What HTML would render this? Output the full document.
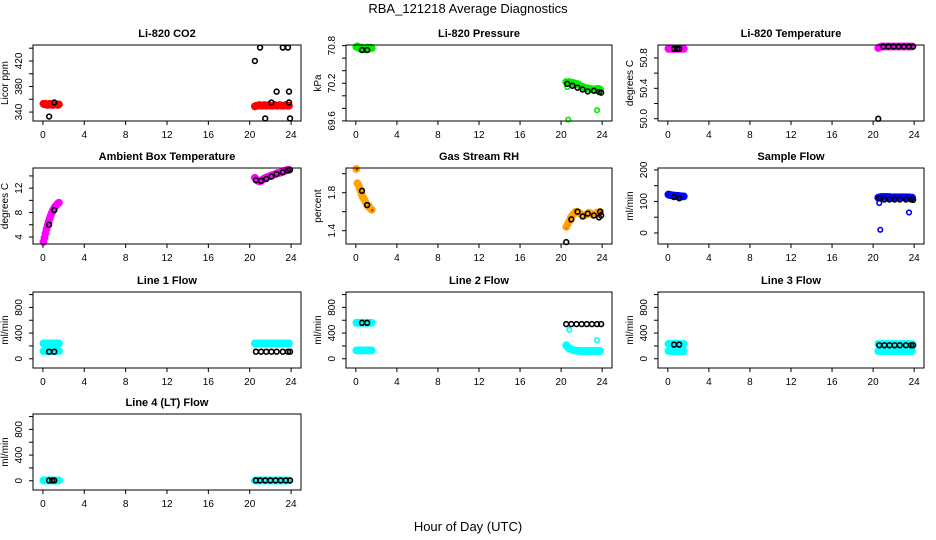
<!DOCTYPE html>
<html><head><meta charset="utf-8"><style>
body{margin:0;background:#fff}
svg{display:block;font-family:"Liberation Sans",sans-serif}
</style></head><body>
<svg id="chart" width="936" height="540" viewBox="0 0 936 540" xmlns="http://www.w3.org/2000/svg">
<text x="468" y="13" text-anchor="middle" font-size="13">RBA_121218  Average Diagnostics</text>
<text x="468" y="531" text-anchor="middle" font-size="13">Hour of Day (UTC)</text>
</svg>
<script>
const hoursL=[0.05,0.15,0.25,0.35,0.45,0.55,0.65,0.75,0.85,0.95,1.05,1.15,1.25,1.35,1.45,1.55];
const hoursR=[20.5,20.65,20.8,20.95,21.1,21.25,21.4,21.55,21.7,21.85,22.0,22.15,22.3,22.45,22.6,22.75,22.9,23.05,23.2,23.35,23.5,23.65,23.8];
const blackL=[0.6,1.1];
const blackR=[20.6,21.1,21.6,22.1,22.6,23.2,23.7,23.9];
const xTicks=[0,4,8,12,16,20,24];

const co2L=[353,352,353,352,351,352,353,352,352,351,352,353,352,352,351,352];
const co2R=[349,350,350,351,350,350,351,350,350,351,350,350,350,351,350,350,351,350,350,350,351,350,350];
const co2BlackH=[0.6,1.1,20.5,21.0,21.5,22.1,22.6,23.2,23.7,23.8,23.8,23.9];
const co2BlackV=[333,355,420,441,330,355,372,441,441,372,355,330];

const presL=[70.78,70.79,70.77,70.76,70.75,70.77,70.76,70.75,70.74,70.76,70.75,70.77,70.76,70.75,70.77,70.76];
const presR=[70.22,70.21,70.22,70.2,70.21,70.2,70.19,70.19,70.18,70.16,70.15,70.14,70.13,70.12,70.12,70.11,70.11,70.1,70.1,70.1,70.11,70.11,70.1];
const presOutH=[20.6,20.7,23.5];
const presOutV=[70.14,69.62,69.77];
const presBlackV=[70.73,70.73,70.19,70.16,70.13,70.1,70.07,70.08,70.06,70.05];

const tempL=[50.92,50.92,50.92,50.92,50.92,50.92,50.92,50.92,50.92,50.92,50.92,50.92,50.92,50.92,50.92,50.92];
const tempR=[50.93,50.94,50.95,50.95,50.95,50.95,50.95,50.95,50.95,50.95,50.95,50.95,50.95,50.95,50.95,50.95,50.95,50.95,50.95,50.95,50.95,50.95,50.95];
const tempBlackH=[0.6,0.9,1.1,20.5,21.0,21.5,22.0,22.5,23.0,23.5,23.9];
const tempBlackV=[50.92,50.92,50.92,50.0,50.95,50.95,50.95,50.95,50.95,50.95,50.95];

const ambL=[3.2,3.9,4.6,5.3,5.9,6.5,7.0,7.5,7.9,8.3,8.6,8.9,9.1,9.3,9.5,9.6];
const ambR=[13.7,13.4,13.2,13.1,13.2,13.4,13.6,13.7,13.8,13.9,14.0,14.1,14.2,14.3,14.4,14.5,14.5,14.6,14.7,14.8,14.9,15.0,15.0];
const ambBlackV=[6.0,8.4,13.3,13.2,13.5,13.9,14.3,14.6,14.9,15.0];

const rhL=[2.05,1.9,1.88,1.85,1.82,1.79,1.76,1.74,1.72,1.7,1.68,1.66,1.66,1.64,1.63,1.62];
const rhR=[1.44,1.47,1.5,1.54,1.56,1.58,1.6,1.6,1.59,1.58,1.57,1.56,1.56,1.57,1.58,1.59,1.58,1.57,1.57,1.58,1.59,1.58,1.6];
const rhBlackH=[0.6,1.1,20.5,21.0,21.6,22.1,22.6,23.2,23.7,23.8,23.9];
const rhBlackV=[1.82,1.67,1.28,1.52,1.6,1.55,1.58,1.56,1.54,1.6,1.56];

const sfL=[122,121,120,120,119,119,118,118,118,117,117,117,116,116,116,116];
const sfR=[112,113,114,114,114,114,114,114,113,113,113,113,113,113,113,113,113,113,113,113,113,112,112];
const sfOutH=[20.6,20.7,23.5];
const sfOutV=[95,10,65];
const sfBlackV=[114,110,110,106,106,106,106,106,106,105];

const l1Hi=[240,240,240,240,240,240,240,240,240,240,240,240,240,240,240,240];
const l1Lo=[120,120,120,120,120,120,120,120,120,120,120,120,120,120,120,120];
const l1R=[240,240,240,240,240,240,240,240,240,240,240,240,240,240,240,240,240,240,240,240,240,240,240];
const l1BlackV=[110,110,110,110,110,110,110,110,110,110];

const l2Hi=[560,560,560,560,560,560,560,560,560,560,560,560,560,560,560,560];
const l2Lo=[130,130,130,130,130,130,130,130,130,130,130,130,130,130,130,130];
const l2R=[210,180,160,150,140,130,130,125,125,120,120,120,120,120,120,120,120,120,120,120,120,120,120];
const l2OutH=[20.8,21.0,23.5];
const l2OutV=[450,160,290];
const l2BlackV=[560,560,540,540,540,540,540,540,540,540];
const l2BlackRH=[20.5,21.0,21.5,22.0,22.5,23.0,23.5,23.9];

const l3Hi=[230,230,230,230,230,230,230,230,230,230,230,230,230,230,230,230];
const l3Lo=[120,120,120,120,120,120,120,120,120,120,120,120,120,120,120,120];
const l3RHi=[230,230,230,230,230,230,230,230,230,230,230,230,230,230,230,230,230,230,230,230,230,230,230];
const l3RLo=[120,120,120,120,120,120,120,120,120,120,120,120,120,120,120,120,120,120,120,120,120,120,120];
const l3BlackV=[220,220,210,210,210,210,210,210,210,210];

const l4L=[5,5,5,5,5,5,5,5,5,5,5,5,5,5,5,5];
const l4R=[5,5,5,5,5,5,5,5,5,5,5,5,5,5,5,5,5,5,5,5,5,5,5];
const l4BlackH=[0.6,0.9,1.1,20.6,21.0,21.5,22.0,22.5,23.0,23.5,23.9];
const l4BlackV=[5,5,5,5,5,5,5,5,5,5,5];

const NS='http://www.w3.org/2000/svg';
const svg=document.getElementById('chart');
function mk(tag,attrs,parent){const e=document.createElementNS(NS,tag);for(const k in attrs)e.setAttribute(k,attrs[k]);(parent||svg).appendChild(e);return e;}

const colL=[33,346,658], colW=[268,266,266];
const rowT=[45,168,292,414], boxH=76;
const flowTicks=[0,200,400,600,800,1000], flowLabels=[0,400,800];

const panels=[
 {name:'co2',title:'Li-820 CO2',ylab:'Licor ppm',c:0,r:0,ymin:326,ymax:445,ticks:[340,360,380,400,420,440],labels:[340,380,420],dec:0,
  series:[{h:hoursL,v:co2L,col:'#ff0000'},{h:hoursR,v:co2R,col:'#ff0000'}],black:{h:co2BlackH,v:co2BlackV}},
 {name:'pressure',title:'Li-820 Pressure',ylab:'kPa',c:1,r:0,ymin:69.598,ymax:70.81,ticks:[69.6,69.8,70.0,70.2,70.4,70.6,70.8],labels:[69.6,70.2,70.8],dec:1,
  series:[{h:hoursL,v:presL,col:'#00ee00'},{h:hoursR,v:presR,col:'#00ee00'},{h:presOutH,v:presOutV,col:'#00ee00',open:true}],black:{h:blackL.concat(blackR),v:presBlackV}},
 {name:'temperature',title:'Li-820 Temperature',ylab:'degrees C',c:2,r:0,ymin:49.97,ymax:50.97,ticks:[50.0,50.2,50.4,50.6,50.8],labels:[50.0,50.4,50.8],dec:1,
  series:[{h:hoursL,v:tempL,col:'#ff00ff'},{h:hoursR,v:tempR,col:'#ff00ff'}],black:{h:tempBlackH,v:tempBlackV}},
 {name:'ambient',title:'Ambient Box Temperature',ylab:'degrees C',c:0,r:1,ymin:2.85,ymax:15.3,ticks:[4,6,8,10,12,14],labels:[4,8,12],dec:0,
  series:[{h:hoursL,v:ambL,col:'#ff00ff'},{h:hoursR,v:ambR,col:'#ff00ff'}],black:{h:blackL.concat(blackR),v:ambBlackV}},
 {name:'rh',title:'Gas Stream RH',ylab:'percent',c:1,r:1,ymin:1.26,ymax:2.06,ticks:[1.4,1.6,1.8,2.0],labels:[1.4,1.8],dec:1,
  series:[{h:hoursL,v:rhL,col:'#ffa500',dot:true},{h:hoursR,v:rhR,col:'#ffa500',dot:true}],black:{h:rhBlackH,v:rhBlackV}},
 {name:'sample-flow',title:'Sample Flow',ylab:'ml/min',c:2,r:1,ymin:-35,ymax:206,ticks:[0,50,100,150,200],labels:[0,100,200],dec:0,
  series:[{h:hoursL,v:sfL,col:'#0000ff'},{h:hoursR,v:sfR,col:'#0000ff'},{h:sfOutH,v:sfOutV,col:'#0000ff',open:true}],black:{h:blackL.concat(blackR),v:sfBlackV}},
 {name:'line1-flow',title:'Line 1 Flow',ylab:'ml/min',c:0,r:2,ymin:-144,ymax:1040,ticks:flowTicks,labels:flowLabels,dec:0,
  series:[{h:hoursL,v:l1Hi,col:'#00ffff'},{h:hoursL,v:l1Lo,col:'#00ffff'},{h:hoursR,v:l1R,col:'#00ffff'}],black:{h:blackL.concat(blackR),v:l1BlackV}},
 {name:'line2-flow',title:'Line 2 Flow',ylab:'ml/min',c:1,r:2,ymin:-144,ymax:1040,ticks:flowTicks,labels:flowLabels,dec:0,
  series:[{h:hoursL,v:l2Hi,col:'#00ffff'},{h:hoursL,v:l2Lo,col:'#00ffff'},{h:hoursR,v:l2R,col:'#00ffff'},{h:l2OutH,v:l2OutV,col:'#00ffff',open:true}],black:{h:blackL.concat(l2BlackRH),v:l2BlackV}},
 {name:'line3-flow',title:'Line 3 Flow',ylab:'ml/min',c:2,r:2,ymin:-144,ymax:1040,ticks:flowTicks,labels:flowLabels,dec:0,
  series:[{h:hoursL,v:l3Hi,col:'#00ffff'},{h:hoursL,v:l3Lo,col:'#00ffff'},{h:hoursR,v:l3RHi,col:'#00ffff'},{h:hoursR,v:l3RLo,col:'#00ffff'}],black:{h:blackL.concat(blackR),v:l3BlackV}},
 {name:'line4-flow',title:'Line 4 (LT) Flow',ylab:'ml/min',c:0,r:3,ymin:-144,ymax:1040,ticks:flowTicks,labels:flowLabels,dec:0,
  series:[{h:hoursL,v:l4L,col:'#00ffff'},{h:hoursR,v:l4R,col:'#00ffff'}],black:{h:l4BlackH,v:l4BlackV}}
];

panels.forEach(p=>{
  const L=colL[p.c], W=colW[p.c], T=rowT[p.r], B=T+boxH;
  const xs=h=>L+(h+0.96)/25.92*W;
  const ys=v=>B-(v-p.ymin)/(p.ymax-p.ymin)*boxH;
  const g=mk('g',{});
  
  
  const t=mk('text',{x:L+W/2,y:T-8,'text-anchor':'middle','font-size':'11','font-weight':'bold'},g);
  t.textContent=p.title;
  
  
  p.series.forEach(s=>{
    s.h.forEach((h,i)=>{
      const c=mk('circle',{cx:xs(h),cy:ys(s.v[i]),r:s.open?2.3:3.4,fill:s.open?'none':s.col,stroke:s.col,'stroke-width':s.open?1.6:1},g);
      
      
      if(s.dot){mk('circle',{cx:xs(h)+0.5,cy:ys(s.v[i])+0.5,r:1.2,fill:'#ff0000'},g);}
    });
  });
  p.black.h.forEach((h,i)=>{
    const c=mk('circle',{cx:xs(h),cy:ys(p.black.v[i]),r:2.4,fill:'none',stroke:'#000','stroke-width':1.6},g);
    
    
  });
  const bx=mk('rect',{x:L,y:T,width:W,height:boxH,fill:'none',stroke:'#000','stroke-width':1},g);
  
  
  mk('line',{x1:xs(0),x2:xs(24),y1:B,y2:B,stroke:'#000'},g);
  xTicks.forEach(v=>{
    mk('line',{x1:xs(v),x2:xs(v),y1:B,y2:B+4,stroke:'#000'},g);
    const tx=mk('text',{x:xs(v),y:B+17,'text-anchor':'middle','font-size':'10'},g);
    tx.textContent=v;
    
    
  });
  const t0=p.ticks[0], t1=p.ticks[p.ticks.length-1];
  mk('line',{x1:L,x2:L,y1:ys(t0),y2:ys(t1),stroke:'#000'},g);
  p.ticks.forEach(v=>{mk('line',{x1:L-4,x2:L,y1:ys(v),y2:ys(v),stroke:'#000'},g);});
  p.labels.forEach(v=>{
    const X=L-11,Y=ys(v);
    const ty=mk('text',{x:X,y:Y,'text-anchor':'middle','font-size':'10',transform:`rotate(-90 ${X} ${Y})`},g);
    ty.textContent=v.toFixed(p.dec);
    
    
  });
  const X2=L-25,Y2=T+boxH/2;
  const yl=mk('text',{x:X2,y:Y2,'text-anchor':'middle','font-size':'10',transform:`rotate(-90 ${X2} ${Y2})`},g);
  yl.textContent=p.ylab;
  
  
});
</script>
</body></html>
